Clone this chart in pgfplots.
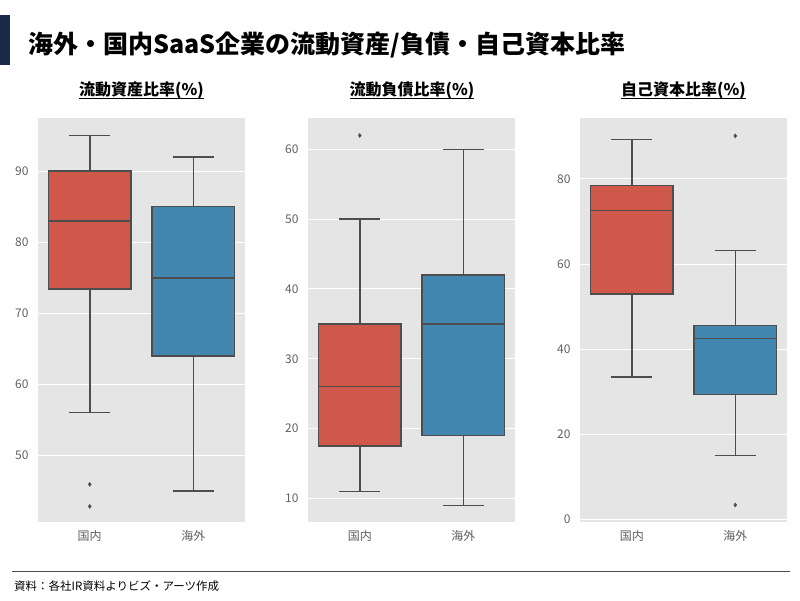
\documentclass[border=0pt]{standalone}
\usepackage{fontspec}
\setmainfont{Noto Sans CJK JP}
\usepackage{pgfplots}
\pgfplotsset{compat=1.18}
\usepgfplotslibrary{statistics}

\definecolor{navy}{HTML}{1B2A47}
\definecolor{boxred}{HTML}{D0584A}
\definecolor{boxblue}{HTML}{4287B0}
\definecolor{panelbg}{HTML}{E5E5E5}
\definecolor{edge}{HTML}{4D4D4D}
\definecolor{ticktext}{HTML}{606060}

\pgfplotsset{
  panel/.style={
    scale only axis, width=207pt, height=404pt, anchor=south west,
    xmin=-0.5, xmax=1.5, xtick={0,1}, xticklabels={国内,海外},
    axis background/.style={fill=panelbg},
    axis line style={draw=none},
    major tick length=0pt,
    ymajorgrids, grid style={white, line width=1pt},
    tick label style={font=\fontsize{12}{14}\selectfont, text=ticktext},
    /pgf/number format/assume math mode=true,
    xticklabel style={yshift=-5pt},
    yticklabel style={xshift=-6pt},
    boxplot/draw direction=y,
    boxplot/every box/.style={line width=1.5pt},
    boxplot/every whisker/.style={line width=1.5pt},
    boxplot/every median/.style={line width=1.5pt},
  },
  bx/.style={fill=#1, draw=edge, line width=1.5pt,
    mark=diamond*, mark size=2pt, mark options={fill=edge, draw=edge, line width=0.4pt}},
}

\begin{document}
\begin{tikzpicture}
\path[use as bounding box] (0,0) rectangle (800pt,600pt);

% title
\fill[navy] (0,535pt) rectangle (10pt,585pt);
\node[anchor=west, inner sep=0pt, font=\fontsize{25}{30}\selectfont\bfseries] at (28pt,555pt)
  {海外・国内SaaS企業の流動資産/負債・自己資本比率};

% panel titles
\node[anchor=base, inner sep=0pt, font=\fontsize{16}{19}\selectfont\bfseries] (s1) at (141.5pt,504pt) {流動資産比率(\%)};
\node[anchor=base, inner sep=0pt, font=\fontsize{16}{19}\selectfont\bfseries] (s2) at (412pt,504pt) {流動負債比率(\%)};
\node[anchor=base, inner sep=0pt, font=\fontsize{16}{19}\selectfont\bfseries] (s3) at (683.5pt,504pt) {自己資本比率(\%)};
\foreach \s in {s1,s2,s3}
  \draw[line width=1pt] ([yshift=-3pt]\s.base west) -- ([yshift=-3pt]\s.base east);

% current assets ratio
\begin{axis}[panel, at={(38pt,78pt)}, ymin=40.6, ymax=97.5, ytick={50,60,70,80,90}]
\addplot[bx=boxred, boxplot prepared={lower whisker=56, lower quartile=73.4, median=83,
  upper quartile=90, upper whisker=95, draw position=0, box extend=0.8, whisker extend=0.4}]
  table[row sep=\\, y index=0] {data\\ 45.9\\ 42.8\\};
\addplot[bx=boxblue, boxplot prepared={lower whisker=45, lower quartile=64, median=75,
  upper quartile=85, upper whisker=92, draw position=1, box extend=0.8, whisker extend=0.4}]
  coordinates {};
\end{axis}

% current liabilities ratio
\begin{axis}[panel, at={(308pt,78pt)}, ymin=6.6, ymax=64.5, ytick={10,20,30,40,50,60}]
\addplot[bx=boxred, boxplot prepared={lower whisker=11, lower quartile=17.5, median=26,
  upper quartile=35, upper whisker=50, draw position=0, box extend=0.8, whisker extend=0.4}]
  table[row sep=\\, y index=0] {data\\ 62\\};
\addplot[bx=boxblue, boxplot prepared={lower whisker=9, lower quartile=19, median=35,
  upper quartile=42, upper whisker=60, draw position=1, box extend=0.8, whisker extend=0.4}]
  coordinates {};
\end{axis}

% equity ratio
\begin{axis}[panel, at={(580pt,78pt)}, ymin=-0.6, ymax=94.3, ytick={0,20,40,60,80}]
\addplot[bx=boxred, boxplot prepared={lower whisker=33.5, lower quartile=53, median=72.6,
  upper quartile=78.4, upper whisker=89.3, draw position=0, box extend=0.8, whisker extend=0.4}]
  coordinates {};
\addplot[bx=boxblue, boxplot prepared={lower whisker=15, lower quartile=29.4, median=42.5,
  upper quartile=45.6, upper whisker=63.2, draw position=1, box extend=0.8, whisker extend=0.4}]
  table[row sep=\\, y index=0] {data\\ 90.1\\ 3.4\\};
\end{axis}

% footer
\draw[edge, line width=1pt] (12pt,29pt) -- (790pt,29pt);
\node[anchor=west, inner sep=0pt, font=\fontsize{11.5}{14}\selectfont] at (14pt,14pt)
  {資料：各社IR資料よりビズ・アーツ作成};
\end{tikzpicture}
\end{document}
